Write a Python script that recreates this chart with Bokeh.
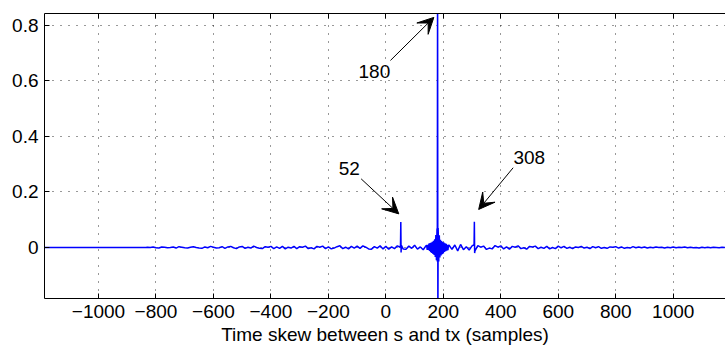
from bokeh.plotting import figure
from bokeh.models import (Range1d, LinearAxis, FixedTicker, Label, Arrow, VeeHead)
from bokeh.embed import file_html
from bokeh.resources import INLINE

# ---------------- data ----------------
# flat (zero) region at the far left
quiet_lags = [-1189, -835]
quiet_vals = [0.0, 0.0]

# noise, lags -830 .. 140 step 10
left_lags = list(range(-830, 141, 10))
left_vals = [
    0.001, 0.000, 0.002, -0.001, -0.002, 0.002, 0.001, -0.001, 0.000, 0.002,
    -0.002, 0.003, 0.001, -0.001, -0.002, 0.001, 0.003, 0.000, -0.002, -0.003,
    0.002, -0.001, 0.004, 0.001, -0.002, -0.001, 0.003, -0.003, 0.002, 0.004,
    -0.001, -0.004, 0.002, 0.004, -0.003, 0.001, -0.002, 0.005, 0.000, -0.003,
    -0.004, 0.003, 0.001, 0.004, -0.004, 0.002, -0.003, 0.004, -0.005, 0.001,
    -0.002, 0.004, -0.004, 0.003, 0.001, 0.005, -0.004, -0.001, -0.005, 0.004,
    0.001, 0.005, -0.004, 0.002, -0.005, -0.002, 0.003, 0.006, -0.004, 0.001,
    -0.005, 0.004, -0.002, 0.005, -0.003, 0.006, 0.001, -0.005, -0.006, 0.003,
    -0.002, 0.006, -0.005, 0.004, -0.006, 0.002, -0.004, 0.006, 0.001, -0.005,
    -0.006, 0.005, -0.003, 0.008, -0.006, 0.002, -0.008, 0.007,
]

# echo at lag 52
spike52_lags = [51, 52, 53, 54]
spike52_vals = [0.010, 0.092, -0.018, 0.008]

# central cluster, lags 142 .. 218 step 2 (main peak at 180)
center_lags = list(range(142, 220, 2))
center_vals = [
    0.007, -0.009, 0.010, -0.009, 0.014, -0.012, 0.016, -0.017, 0.018, -0.020,
    0.021, -0.023, 0.024, -0.027, 0.030, -0.034, 0.045, -0.046, 0.068, 1.000,
    0.070, -0.050, 0.044, -0.036, 0.028, -0.029, 0.023, -0.024, 0.020, -0.021,
    0.018, -0.016, 0.015, -0.013, 0.013, -0.011, 0.010, -0.010, 0.008,
]
peak_lags = [179, 181]
peak_vals = [-0.050, -0.300]

# echo at lag 308
spike308_lags = [307, 308, 309]
spike308_vals = [0.010, 0.093, -0.020]

# noise, lags 220 .. 1180 step 10
right_lags = list(range(220, 1181, 10))
right_vals = [
    0.008, -0.007, 0.009, -0.012, 0.011, -0.008, 0.003, -0.009, 0.006, -0.012,
    0.007, 0.001, 0.005, -0.007, -0.002, -0.005, 0.007, 0.001, 0.006, -0.005,
    0.002, -0.006, 0.004, 0.001, 0.006, -0.004, -0.001, -0.006, 0.004, 0.002,
    0.005, -0.004, 0.001, -0.003, 0.004, -0.005, 0.000, -0.004, 0.005, -0.001,
    0.004, -0.003, 0.001, -0.004, 0.002, 0.000, 0.004, -0.002, 0.001, -0.004,
    0.003, -0.001, 0.003, -0.003, 0.000, -0.003, 0.002, 0.001, 0.003, -0.002,
    0.002, -0.003, 0.000, -0.002, 0.003, -0.001, 0.002, -0.001, 0.002, -0.002,
    0.001, -0.001, 0.002, 0.000, 0.001, -0.002, 0.001, -0.001, 0.002, -0.001,
    0.001, 0.000, 0.002, -0.001, 0.001, -0.001, 0.000, -0.002, 0.001, -0.001,
    0.001, -0.001, 0.001, 0.0, -0.001, 0.001, 0.0,
]

x_ticks = [-1000, -800, -600, -400, -200, 0, 200, 400, 600, 800, 1000]
x_tick_labels = ["\u22121000", "\u2212800", "\u2212600", "\u2212400", "\u2212200",
                 "0", "200", "400", "600", "800", "1000"]
y_ticks = [0, 0.2, 0.4, 0.6, 0.8]
y_tick_labels = ["0", "0.2", "0.4", "0.6", "0.8"]

annot_text = ["52", "180", "308"]

# ---------------- assemble series ----------------
pairs = []
for lg, vl in [(quiet_lags, quiet_vals), (left_lags, left_vals),
               (spike52_lags, spike52_vals), (center_lags, center_vals),
               (peak_lags, peak_vals), (spike308_lags, spike308_vals),
               (right_lags, right_vals)]:
    pairs.extend(zip(lg, vl))
pairs.sort(key=lambda t: t[0])
xs = [a for a, _ in pairs]
ys = [b for _, b in pairs]

FONT = "Liberation Sans"
FS = "19px"

p = figure(width=725, height=350, output_backend="svg", toolbar_location=None,
           x_range=Range1d(-1188, 1182), y_range=Range1d(-0.1835, 0.842),
           min_border_left=44, min_border_right=0, min_border_top=13,
           min_border_bottom=52)
p.outline_line_color = None
p.background_fill_color = "white"
p.border_fill_color = "white"

p.line(xs, ys, line_color="#0000ff", line_width=1.5)

# axes
for ax in (p.xaxis[0], p.yaxis[0]):
    ax.major_tick_in = 5
    ax.major_tick_out = 0
    ax.minor_tick_line_color = None
    ax.axis_line_color = "black"
    ax.major_tick_line_color = "black"
    ax.major_label_text_font = FONT
    ax.major_label_text_font_size = FS
    ax.major_label_text_color = "black"
    ax.major_label_standoff = 6

p.xaxis[0].ticker = FixedTicker(ticks=x_ticks)
p.xaxis[0].major_label_overrides = dict(zip(x_ticks, x_tick_labels))
p.yaxis[0].ticker = FixedTicker(ticks=y_ticks)
p.yaxis[0].major_label_overrides = dict(zip(y_ticks, y_tick_labels))

p.xaxis[0].axis_label = "Time skew between s and tx (samples)"
p.xaxis[0].axis_label_text_font = FONT
p.xaxis[0].axis_label_text_font_size = FS
p.xaxis[0].axis_label_text_font_style = "normal"
p.xaxis[0].axis_label_text_color = "black"
p.xaxis[0].axis_label_standoff = 3

top = LinearAxis(ticker=FixedTicker(ticks=x_ticks), major_tick_in=5, major_tick_out=0,
                 minor_tick_line_color=None, major_label_standoff=0,
                 major_label_overrides={t: "" for t in x_ticks},
                 axis_line_color="black")
p.add_layout(top, "above")

# grid
p.xgrid.ticker = FixedTicker(ticks=x_ticks)
p.ygrid.ticker = FixedTicker(ticks=y_ticks)
for g in (p.xgrid[0], p.ygrid[0]):
    g.grid_line_color = "black"
    g.grid_line_dash = "1 7"
    g.grid_line_width = 1
    g.grid_line_alpha = 0.8

# annotations
lbl_pos = [(-127, 0.285), (-40, 0.632), (499, 0.325)]
arr_pos = [((-86, 0.247), (45, 0.121)),
           ((16, 0.673), (167, 0.828)),
           ((443, 0.287), (323, 0.137))]
for txt, (lx, ly), ((x0, y0), (x1, y1)) in zip(annot_text, lbl_pos, arr_pos):
    p.add_layout(Label(x=lx, y=ly, text=txt, text_font=FONT, text_font_size=FS,
                       text_align="center", text_baseline="middle", text_color="black"))
    p.add_layout(Arrow(x_start=x0, y_start=y0, x_end=x1, y_end=y1,
                       line_color="black", line_width=1,
                       end=VeeHead(size=16, fill_color="black", line_color="black")))

open("out.html", "w").write(file_html(p, INLINE))
